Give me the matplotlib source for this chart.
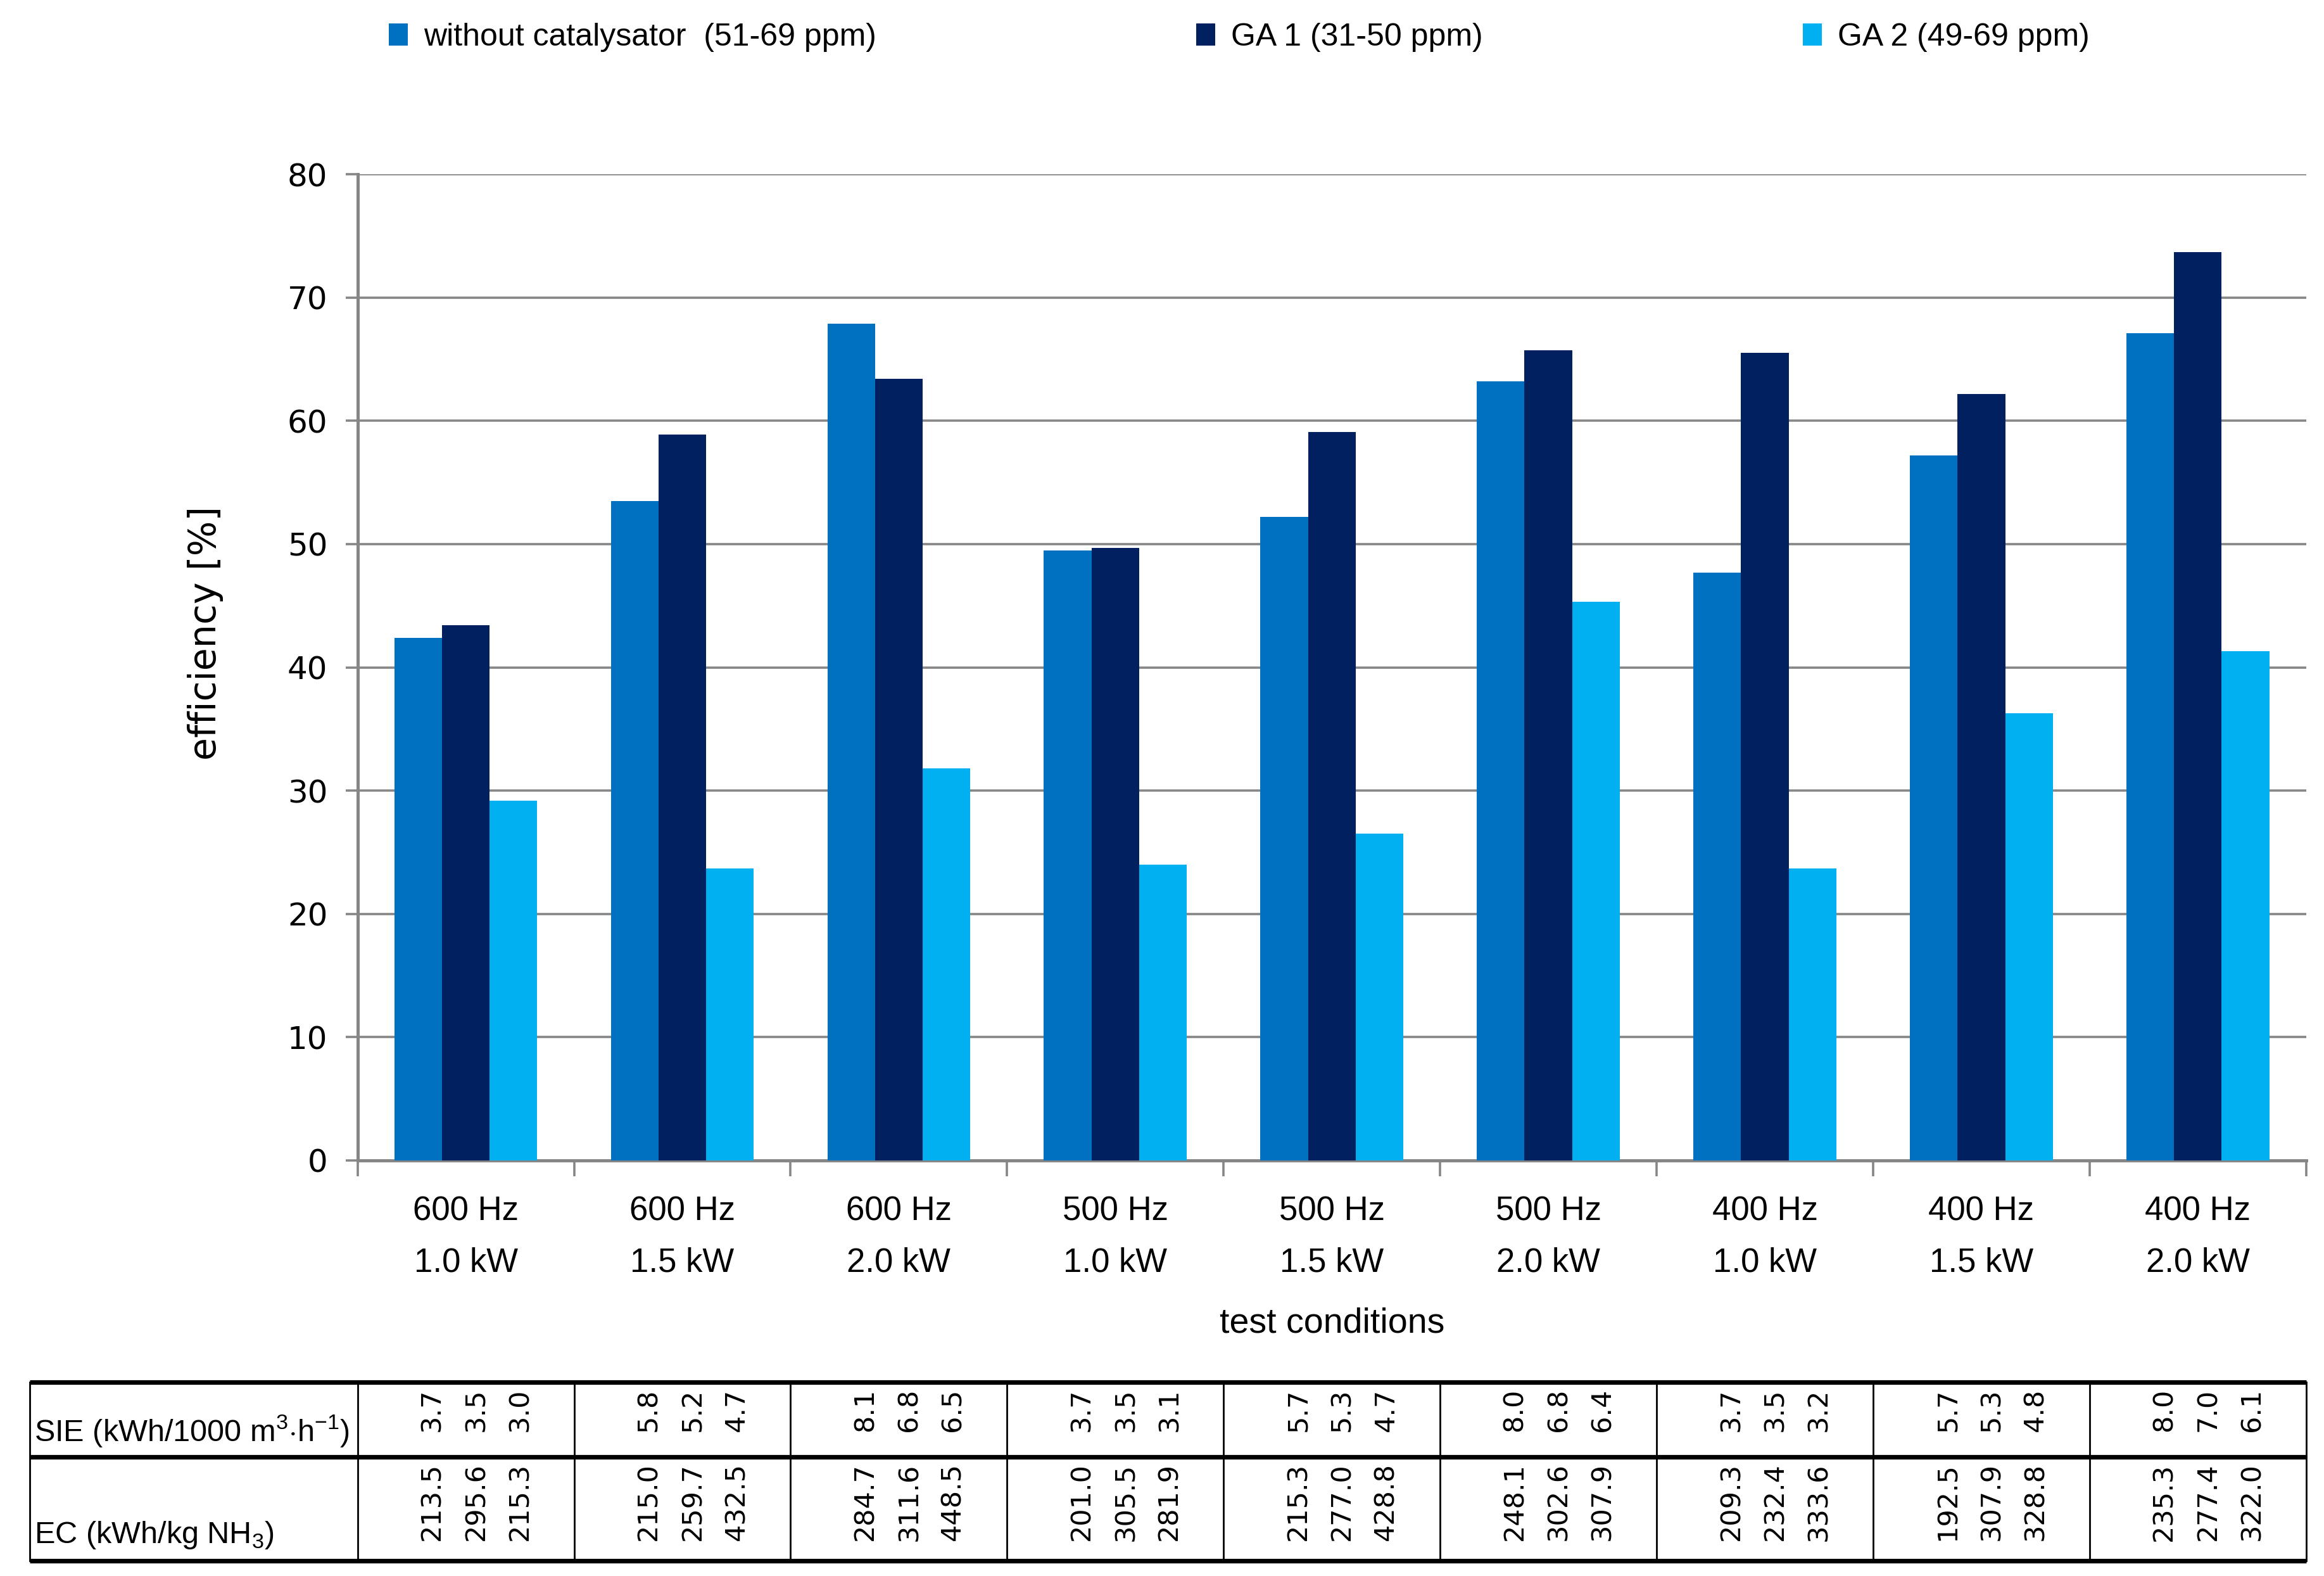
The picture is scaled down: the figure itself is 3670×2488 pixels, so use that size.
import numpy as np
import matplotlib
matplotlib.use('Agg')
import matplotlib.pyplot as plt

# efficiency [%] per test condition
conditions = ['600 Hz\n1.0 kW', '600 Hz\n1.5 kW', '600 Hz\n2.0 kW',
              '500 Hz\n1.0 kW', '500 Hz\n1.5 kW', '500 Hz\n2.0 kW',
              '400 Hz\n1.0 kW', '400 Hz\n1.5 kW', '400 Hz\n2.0 kW']
no_cat = [42.4, 53.5, 67.9, 49.5, 52.2, 63.2, 47.7, 57.2, 67.1]
ga1 = [43.4, 58.9, 63.4, 49.7, 59.1, 65.7, 65.5, 62.2, 73.7]
ga2 = [29.2, 23.7, 31.8, 24.0, 26.5, 45.3, 23.7, 36.3, 41.3]
series_names = ['without catalysator  (51-69 ppm)', 'GA 1 (31-50 ppm)', 'GA 2 (49-69 ppm)']
colors = ['#0070C0', '#002060', '#00B0F0']

# table rows (no catalysator, GA 1, GA 2 for every condition)
sie = [[3.7, 3.5, 3.0], [5.8, 5.2, 4.7], [8.1, 6.8, 6.5],
       [3.7, 3.5, 3.1], [5.7, 5.3, 4.7], [8.0, 6.8, 6.4],
       [3.7, 3.5, 3.2], [5.7, 5.3, 4.8], [8.0, 7.0, 6.1]]
ec = [[213.5, 295.6, 215.3], [215.0, 259.7, 432.5], [284.7, 311.6, 448.5],
      [201.0, 305.5, 281.9], [215.3, 277.0, 428.8], [248.1, 302.6, 307.9],
      [209.3, 232.4, 333.6], [192.5, 307.9, 328.8], [235.3, 277.4, 322.0]]
row_labels = ['SIE (kWh/1000 m$^{3}$$\\cdot$h$^{-1}$)', 'EC (kWh/kg NH$_{3}$)']

narrow = ['Liberation Sans Narrow', 'Liberation Sans', 'DejaVu Sans']
plt.rcParams['mathtext.fontset'] = 'custom'
plt.rcParams['mathtext.rm'] = 'Liberation Sans'

W, H = 1560.0, 1058.0  # layout measured on a 1560 px wide copy
fig = plt.figure(figsize=(18.35, 12.44), dpi=200)
ax_l, ax_r, ax_t, ax_b = 240, 1548, 117, 779
ax = fig.add_axes([ax_l / W, 1 - ax_b / H, (ax_r - ax_l) / W, (ax_b - ax_t) / H])

x = np.arange(len(conditions))
bw = 0.22
bars = []
for i, (vals, name, c) in enumerate(zip([no_cat, ga1, ga2], series_names, colors)):
    bars.append(ax.bar(x + (i - 1) * bw, vals, bw, color=c, label=name, zorder=3))

ax.set_xlim(-0.5, len(conditions) - 0.5)
ax.set_ylim(0, 80)
ax.set_yticks(range(0, 81, 10))
ax.yaxis.grid(True, color='#868686', linewidth=1.3, zorder=0)
for s in ['top', 'right']:
    ax.spines[s].set_visible(False)
for s in ['left', 'bottom']:
    ax.spines[s].set_color('#868686')
    ax.spines[s].set_linewidth(1.8)
ax.tick_params(axis='y', length=7, width=1.3, color='#868686', labelsize=18, pad=10)
for lab in ax.get_yticklabels():
    lab.set_family('DejaVu Sans')
ax.set_xticks(x)
ax.set_xticklabels(conditions, fontsize=19, family=narrow, linespacing=1.8)
ax.set_xticks(np.arange(-0.5, len(conditions), 1), minor=True)
ax.tick_params(axis='x', which='major', length=0, pad=20)
ax.tick_params(axis='x', which='minor', length=9, width=1.3, color='#868686')
ax.set_xlabel('test conditions', fontsize=20, family=narrow, labelpad=16)
fig.text(138 / W, 1 - 425 / H, 'efficiency [%]', rotation=90, ha='center', va='center',
         fontsize=21, family='DejaVu Sans')

ax.legend(handles=bars, loc='center left', bbox_to_anchor=(242 / W, 1 - 25 / H),
          bbox_transform=fig.transFigure, ncol=3, frameon=False,
          prop={'family': narrow, 'size': 18}, handlelength=0.6, handleheight=0.7,
          handletextpad=0.5, columnspacing=10.1)

# table below the chart, columns aligned with the categories
tb_l, tb_t, tb_m, tb_b = 20, 928, 978, 1048
tab = fig.add_axes([tb_l / W, 1 - tb_b / H, (ax_r - tb_l) / W, (tb_b - tb_t) / H])
left_data = -0.5 - len(conditions) * (ax_l - tb_l) / (ax_r - ax_l)
tab.set_xlim(left_data, len(conditions) - 0.5)
tab.set_ylim(0, tb_b - tb_t)
tab.axis('off')
ytop, ymid, ybot = tb_b - tb_t, tb_b - tb_m, 0
for yy in [ytop, ymid, ybot]:
    tab.plot([left_data, len(conditions) - 0.5], [yy, yy], color='black', lw=2.6,
             solid_capstyle='butt', clip_on=False)
for xx in [left_data] + list(np.arange(-0.5, len(conditions), 1)):
    tab.plot([xx, xx], [ybot, ytop], color='black', lw=1.0, clip_on=False)

offs = [-0.155, 0.048, 0.25]
for i in range(len(conditions)):
    for j in range(3):
        tab.text(i + offs[j], ytop - 4, f'{sie[i][j]:.1f}', rotation=90, ha='center',
                 va='top', fontsize=15.5, family='DejaVu Sans')
        tab.text(i + offs[j], ymid - 4, f'{ec[i][j]:.1f}', rotation=90, ha='center',
                 va='top', fontsize=15.5, family='DejaVu Sans')
tab.text(left_data + 0.02, ymid + 5, row_labels[0], ha='left', va='bottom',
         fontsize=17.5, family=narrow)
tab.text(left_data + 0.02, ybot + 7, row_labels[1], ha='left', va='bottom',
         fontsize=17.5, family=narrow)

fig.savefig('out.png', dpi=200)
